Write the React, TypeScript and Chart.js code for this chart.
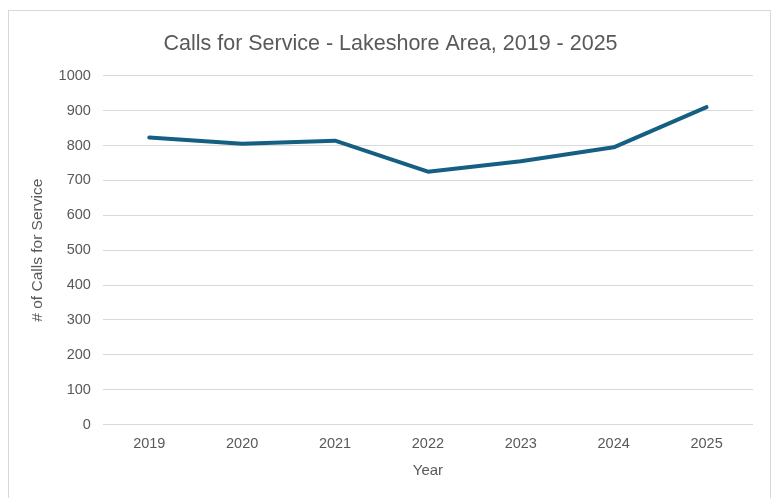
import React, { useEffect, useRef } from "react";
import { Chart, registerables } from "chart.js";

Chart.register(...registerables);

const years = ["2019", "2020", "2021", "2022", "2023", "2024", "2025"];
const calls = [823, 805, 814, 725, 755, 795, 910];
const titleText = "Calls for Service - Lakeshore Area, 2019 - 2025";
const yTitle = "# of Calls for Service";
const xTitle = "Year";

export default function App() {
  const ref = useRef<HTMLCanvasElement>(null);
  useEffect(() => {
    document.body.style.overflow = "hidden";
    const ctx = ref.current!;
    const chart = new Chart(ctx, {
      type: "line",
      data: {
        labels: years,
        datasets: [
          {
            data: calls,
            borderColor: "#156082",
            borderWidth: 4,
            pointRadius: 0,
            tension: 0,
            borderCapStyle: "round",
            borderJoinStyle: "round",
          },
        ],
      },
      options: {
        animation: false,
        responsive: false,
        layout: { padding: { left: 19, right: 17, top: 20, bottom: 18 } },
        plugins: {
          legend: { display: false },
          tooltip: { enabled: false },
          title: {
            display: true,
            text: titleText,
            color: "#595959",
            font: { family: "'Liberation Sans', sans-serif", size: 21.5, weight: "normal" },
            padding: { top: 0, bottom: 19 },
          },
        },
        scales: {
          x: {
            offset: true,
            grid: { display: false },
            border: { display: false },
            ticks: {
              color: "#595959",
              font: { family: "'Liberation Sans', sans-serif", size: 14.5 },
              padding: 3,
            },
            title: {
              display: true,
              text: xTitle,
              color: "#595959",
              font: { family: "'Liberation Sans', sans-serif", size: 15 },
              padding: { top: 6, bottom: 0 },
            },
          },
          y: {
            min: 0,
            max: 1000,
            ticks: {
              stepSize: 100,
              color: "#595959",
              font: { family: "'Liberation Sans', sans-serif", size: 14.5 },
              padding: 12,
              callback: (v: any) => String(v),
            },
            grid: { color: "#d9d9d9", lineWidth: 1, drawTicks: false },
            border: { display: false },
            title: {
              display: true,
              text: yTitle,
              color: "#595959",
              font: { family: "'Liberation Sans', sans-serif", size: 15.5 },
              padding: { top: 0, bottom: 0 },
            },
          },
        },
      },
    });
    return () => chart.destroy();
  }, []);
  return (
    <div
      style={{
        position: "absolute",
        left: 8,
        top: 10,
        width: 761,
        height: 488,
        borderTop: "1px solid #d9d9d9",
        borderLeft: "1px solid #d9d9d9",
        borderRight: "1px solid #d9d9d9",
        background: "#fff",
      }}
    >
      <canvas ref={ref} width={761} height={487} style={{ display: "block" }} />
    </div>
  );
}
